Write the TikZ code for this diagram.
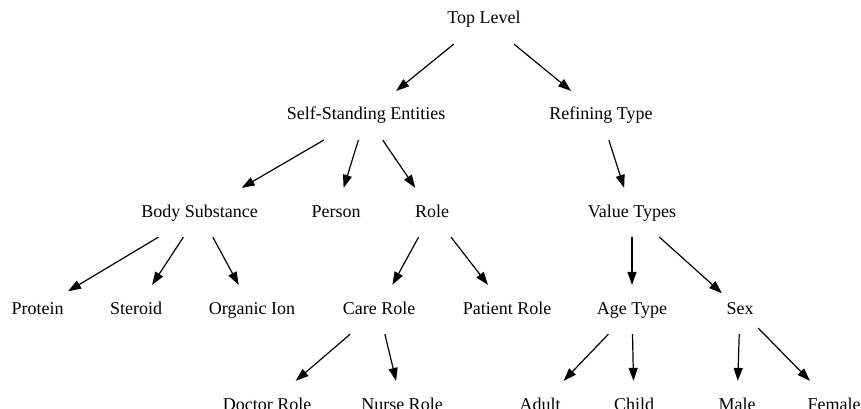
\documentclass[tikz,border=0pt]{standalone}
\usepackage{fontspec}
\setmainfont{Liberation Serif}
\usetikzlibrary{arrows.meta}

\begin{document}
\begin{tikzpicture}[x=1pt, y=-1pt,
    every node/.style={font=\fontsize{18}{20}\selectfont, text height=12pt, text depth=3pt, minimum height=48pt, inner xsep=4pt},
    >={Triangle[length=13pt, width=9pt]}, line width=1.2pt]
    \useasboundingbox (0,0) rectangle (861,409);

    \node (top) at (484, 19.5) {Top Level};

    \node (sse) at (366, 115.5) {Self-Standing Entities};
    \node (refining) at (601, 115.5) {Refining Type};

    \node (body) at (199.5, 212.5) {Body Substance};
    \node (person) at (336, 212.5) {Person};
    \node (role) at (432, 212.5) {Role};
    \node (valuetypes) at (632, 212.5) {Value Types};

    \node (protein) at (37.5, 309.5) {Protein};
    \node (steroid) at (136, 309.5) {Steroid};
    \node (organicion) at (252, 309.5) {Organic Ion};
    \node (carerole) at (379, 309.5) {Care Role};
    \node (patientrole) at (507, 309.5) {Patient Role};
    \node (agetype) at (632, 309.5) {Age Type};
    \node (sex) at (740, 309.5) {Sex};

    \node (doctorrole) at (267, 405.5) {Doctor Role};
    \node (nurserole) at (402, 405.5) {Nurse Role};
    \node (adult) at (540, 405.5) {Adult};
    \node (child) at (634, 405.5) {Child};
    \node (male) at (737, 405.5) {Male};
    \node (female) at (834, 405.5) {Female};

    \draw[->] (top) -- (sse);
    \draw[->] (top) -- (refining);
    \draw[->] (sse) -- (body);
    \draw[->] (sse) -- (person);
    \draw[->] (sse) -- (role);
    \draw[->] (refining) -- (valuetypes);
    \draw[->] (body) -- (protein);
    \draw[->] (body) -- (steroid);
    \draw[->] (body) -- (organicion);
    \draw[->] (role) -- (carerole);
    \draw[->] (role) -- (patientrole);
    \draw[->] (valuetypes) -- (agetype);
    \draw[->] (valuetypes) -- (sex);
    \draw[->] (carerole) -- (doctorrole);
    \draw[->] (carerole) -- (nurserole);
    \draw[->] (agetype) -- (adult);
    \draw[->] (agetype) -- (child);
    \draw[->] (sex) -- (male);
    \draw[->] (sex) -- (female);
\end{tikzpicture}
\end{document}
